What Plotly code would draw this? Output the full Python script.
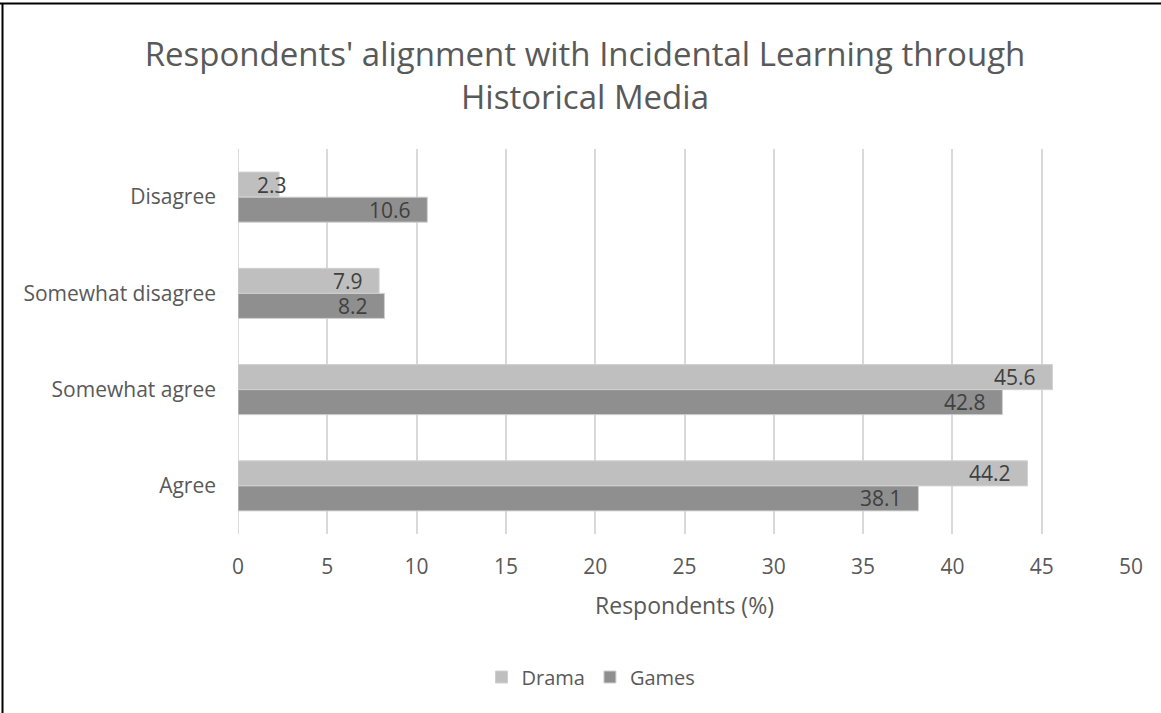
import plotly.graph_objects as go

# Survey responses (percent of respondents)
categories = ["Disagree", "Somewhat disagree", "Somewhat agree", "Agree"]
drama = [2.3, 7.9, 45.6, 44.2]
games = [10.6, 8.2, 42.8, 38.1]
x_ticks = [0, 5, 10, 15, 20, 25, 30, 35, 40, 45, 50]

W, H = 1161, 713
L, R, T, B = 238, 30, 149, 179
pw, ph = W - L - R, H - T - B

FONT = "Open Sans"
TXT = "#595959"
LABEL = "#404040"

series = [("Drama", drama, "#BFBFBF"), ("Games", games, "#8F8F8F")]

fig = go.Figure()
for name, vals, col in series:
    fig.add_trace(go.Bar(
        y=categories, x=vals, name=name, orientation="h",
        marker=dict(color=col, line=dict(color="#D0D0D0", width=1)),
        hoverinfo="x+name",
    ))

# value labels at the inside end of each bar
bar_h = 1.0 - 0.48
offsets = [-bar_h / 4, bar_h / 4]  # Drama above, Games below (axis reversed)
for (name, vals, col), off in zip(series, offsets):
    for i, v in enumerate(vals):
        small = v < 4
        fig.add_annotation(
            x=0 if small else v, y=i + off, xref="x", yref="y",
            text=f"{v:.1f}", showarrow=False,
            xanchor="left" if small else "right",
            xshift=17 if small else -14,
            font=dict(family=FONT, size=21, color=LABEL),
        )

fig.update_layout(
    width=W, height=H,
    margin=dict(l=L, r=R, t=T, b=B, autoexpand=False),
    paper_bgcolor="white", plot_bgcolor="white",
    barmode="group", bargap=0.48, bargroupgap=0,
    font=dict(family=FONT, color=TXT),
    title=dict(
        text="Respondents' alignment with Incidental Learning through<br>Historical Media",
        x=585 / W, xanchor="center", xref="container",
        y=1 - 66 / H, yanchor="top", yref="container",
        font=dict(family=FONT, size=33, color=TXT),
    ),
    xaxis=dict(
        range=[0, 50], tickvals=x_ticks, showgrid=True,
        gridcolor="#D9D9D9", gridwidth=2, zeroline=False,
        showline=False, ticks="", ticklabelstandoff=18,
        tickfont=dict(family=FONT, size=21, color=TXT),
        title=dict(text="Respondents (%)", font=dict(family=FONT, size=23, color=TXT), standoff=18),
    ),
    yaxis=dict(
        autorange="reversed", showgrid=False, showline=False, ticks="",
        ticklabelstandoff=21,
        tickfont=dict(family=FONT, size=21, color=TXT),
    ),
    legend=dict(
        orientation="h", x=(591 - L) / pw, xanchor="center",
        y=(T + ph - 677) / ph, yanchor="middle",
        font=dict(family=FONT, size=20, color=TXT),
        itemwidth=30,
    ),
    showlegend=True,
)

# vertical gridline at zero
fig.add_shape(type="line", xref="x", yref="paper", x0=0, x1=0, y0=0, y1=1,
              line=dict(color="#D9D9D9", width=2), layer="below")

# outer frame: top and left edges
fig.add_shape(type="line", xref="paper", yref="paper",
              x0=-L / pw, x1=(W - L) / pw, y0=1 + (T - 3.5) / ph, y1=1 + (T - 3.5) / ph,
              line=dict(color="black", width=2))
fig.add_shape(type="line", xref="paper", yref="paper",
              x0=-(L - 2.5) / pw, x1=-(L - 2.5) / pw, y0=-B / ph, y1=1 + (T - 3.5) / ph,
              line=dict(color="black", width=2))

fig.write_html("out.html")
